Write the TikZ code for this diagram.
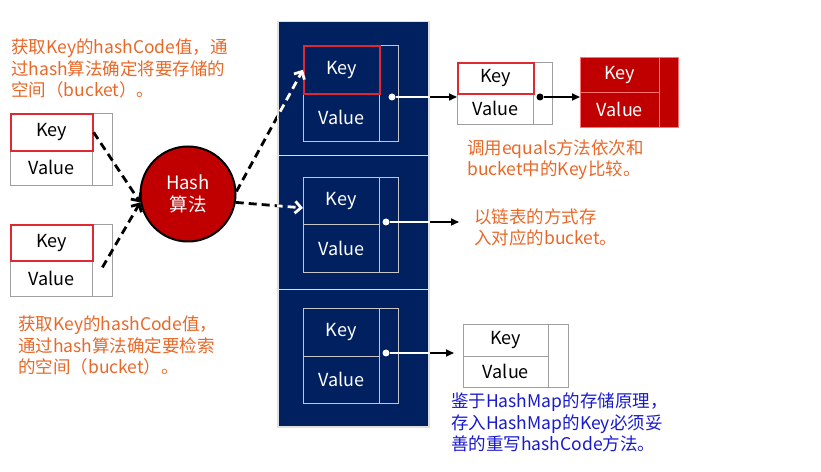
\documentclass[tikz,border=0pt]{standalone}
\usepackage{fontspec}
\setmainfont{Noto Sans CJK SC}
\usetikzlibrary{arrows.meta}
\definecolor{navy}{RGB}{0,32,96}
\definecolor{hashred}{RGB}{192,0,0}
\definecolor{keyred}{RGB}{222,40,50}
\definecolor{notered}{RGB}{232,104,40}
\definecolor{noteblue}{RGB}{25,25,205}

\tikzset{
  cell/.style={draw=gray!75, line width=0.8bp, inner sep=0pt, anchor=north west, font=\fontsize{18bp}{21bp}\selectfont},
  navycell/.style={cell, draw=gray!45, text=white},
  redcell/.style={cell, fill=hashred, draw=red!55!white, text=white},
  keymark/.style={draw=keyred, line width=1.6bp},
  bucket/.style={draw=gray!25, fill=navy, line width=1.5bp, minimum width=151bp, anchor=north west, inner sep=0pt},
  hashnode/.style={circle, fill=hashred, draw=black, line width=2bp, minimum size=95bp, text=white, align=center, font=\fontsize{18.5bp}{22bp}\selectfont},
  note/.style={anchor=north west, align=left, inner sep=0pt, font=\fontsize{17.5bp}{21.5bp}\selectfont},
  dasharrow/.style={dash pattern=on 8bp off 5bp, line width=2.8bp, -{Straight Barb[length=6bp,width=12bp]}},
  ptrarrow/.style={line width=1.6bp, -{Triangle[length=8bp,width=7bp]}},
  dot/.style={circle, fill=white, inner sep=0pt, minimum size=7bp}
}

\begin{document}
\begin{tikzpicture}[x=1bp, y=-1bp]
\useasboundingbox (0,0) rectangle (821,472);

% Bucket array
\node[bucket, minimum height=134bp] (b1) at (277,21) {};
\node[bucket, minimum height=134bp] (b2) at (277,155) {};
\node[bucket, minimum height=137bp] (b3) at (277,289) {};

% Entries inside the buckets
\node[navycell, minimum width=76bp, minimum height=48bp] (bv1) at (303,93) {Value};
\node[navycell, minimum width=19bp, minimum height=96bp] (bp1) at (379,45) {};
\node[navycell, keymark, minimum width=76bp, minimum height=48bp] (bk1) at (303,45) {Key};
\node[navycell, minimum width=76bp, minimum height=48bp] (bv2) at (303,224) {Value};
\node[navycell, minimum width=19bp, minimum height=95bp] (bp2) at (379,177) {};
\node[navycell, minimum width=76bp, minimum height=47bp] (bk2) at (303,177) {Key};
\node[navycell, minimum width=76bp, minimum height=47bp] (bv3) at (303,356) {Value};
\node[navycell, minimum width=19bp, minimum height=95bp] (bp3) at (379,308) {};
\node[navycell, minimum width=76bp, minimum height=48bp] (bk3) at (303,308) {Key};

% Entries on the left
\node[cell, minimum width=82bp, minimum height=35bp] (lv1) at (10,150) {Value};
\node[cell, minimum width=20bp, minimum height=72bp] (lp1) at (92,113) {};
\node[cell, keymark, minimum width=82bp, minimum height=37bp] (lk1) at (10,113) {Key};
\node[cell, minimum width=82bp, minimum height=36bp] (lv2) at (10,260) {Value};
\node[cell, minimum width=20bp, minimum height=72bp] (lp2) at (92,224) {};
\node[cell, keymark, minimum width=82bp, minimum height=36bp] (lk2) at (10,224) {Key};

% Linked entries on the right
\node[cell, minimum width=76bp, minimum height=31bp] (rv) at (457,93) {Value};
\node[cell, minimum width=19bp, minimum height=62bp] (rp) at (533,62) {};
\node[cell, keymark, minimum width=76bp, minimum height=31bp] (rk) at (457,62) {Key};
\node[redcell, minimum width=79bp, minimum height=35bp] (qv) at (580,92) {Value};
\node[redcell, minimum width=19bp, minimum height=70bp] (qp) at (659,57) {};
\node[redcell, minimum width=79bp, minimum height=35bp] (qk) at (580,57) {Key};
\node[cell, minimum width=85bp, minimum height=31bp] (sv) at (463,356) {Value};
\node[cell, minimum width=20bp, minimum height=63bp] (sp) at (548,324) {};
\node[cell, minimum width=85bp, minimum height=32bp] (sk) at (463,324) {Key};

\node[hashnode] (hash) at (188,194) {Hash\\算法};

% Dashed arrows through the hash function
\draw[dasharrow] (lk1.east) -- (hash.190);
\draw[dasharrow] ([yshift=-7bp]lp2.center) -- (hash.190);
\draw[dasharrow] (hash.3) -- (bk1.west);
\draw[dasharrow] (hash.-10) -- ([yshift=-7bp]bk2.west);
\begin{scope}
\clip (b1.north west) rectangle (b3.south east);
\draw[dasharrow, white] (hash.3) -- (bk1.west);
\draw[dasharrow, white] (hash.-10) -- ([yshift=-7bp]bk2.west);
\end{scope}

% Pointers to the next entry
\node[dot] (d1) at (392,97) {};
\node[dot] (d2) at (386,222) {};
\node[dot] (d3) at (386,353) {};
\draw[white, line width=1.6bp] (d1) -- (b1.east |- d1);
\draw[white, line width=1.6bp] (d2) -- (b2.east |- d2);
\draw[white, line width=1.6bp] (d3) -- (b3.east |- d3);
\coordinate (tip2) at (459,222);
\draw[ptrarrow] (b1.east |- d1) -- (rk.west |- d1);
\draw[ptrarrow] (b2.east |- d2) -- (tip2);
\draw[ptrarrow, shorten >=9bp] (b3.east |- d3) -- (sk.west |- d3);
\node[dot, fill=black] (e1) at (540,97) {};
\draw[ptrarrow] (e1) -- (qk.west |- e1);

% Notes
\node[note, text=notered] (note1) at (11,39) {获取Key的hashCode值，通\\过hash算法确定将要存储的\\空间（bucket）。};
\node[note, text=notered] (note2) at (18,316) {获取Key的hashCode值，\\通过hash算法确定要检索\\的空间（bucket）。};
\node[note, text=notered] (note3) at (467,139) {调用equals方法依次和\\bucket中的Key比较。};
\node[note, text=notered] (note4) at (474,208) {以链表的方式存\\入对应的bucket。};
\node[note, text=noteblue] (note5) at (451,393) {鉴于HashMap的存储原理，\\存入HashMap的Key必须妥\\善的重写hashCode方法。};
\end{tikzpicture}
\end{document}
